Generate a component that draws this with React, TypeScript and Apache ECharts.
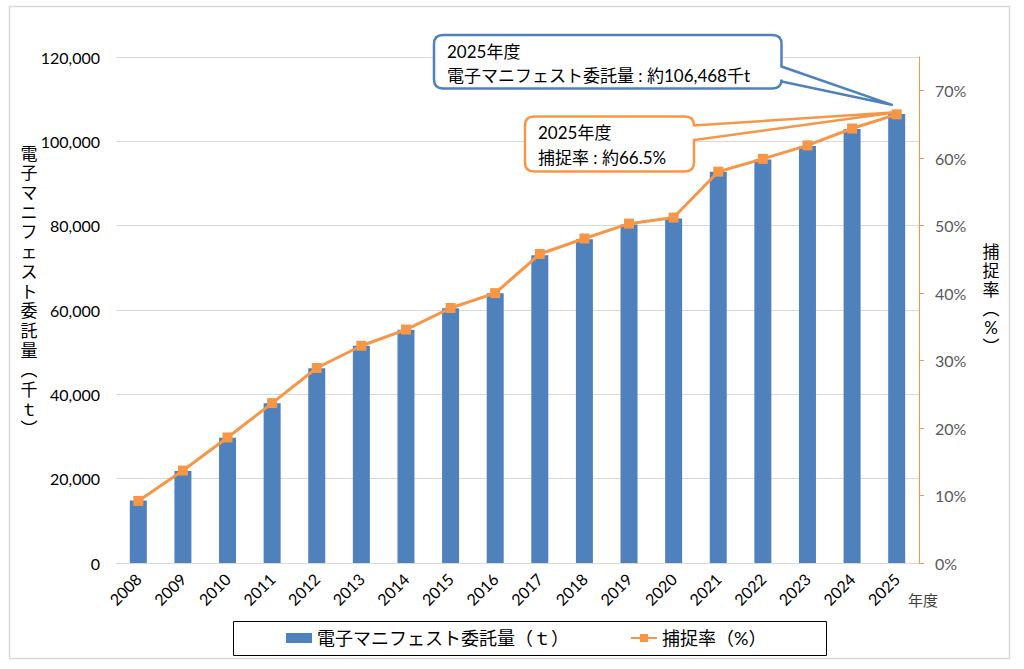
import React, { useEffect, useRef } from 'react';
import * as echarts from 'echarts';

const years = ['2008', '2009', '2010', '2011', '2012', '2013', '2014', '2015', '2016', '2017', '2018', '2019', '2020', '2021', '2022', '2023', '2024', '2025'];
const amounts = [14800, 21800, 29700, 37900, 46200, 51500, 55300, 60400, 64000, 73000, 76800, 80300, 81700, 92800, 95700, 98900, 102900, 106468];
const rates = [9.2, 13.7, 18.6, 23.7, 28.9, 32.2, 34.6, 37.8, 40.0, 45.8, 48.1, 50.3, 51.2, 58.0, 59.9, 61.9, 64.4, 66.5];
const rightTickValues = [0, 10, 20, 30, 40, 50, 60, 70];

const barName = '電子マニフェスト委託量（ｔ）';
const lineName = '捕捉率（%）';
const leftTitleChars = ['電', '子', 'マ', 'ニ', 'フ', 'ェ', 'ス', 'ト', '委', '託', '量', '︵', '千', 'ｔ', '︶'];
const rightTitleChars = ['捕', '捉', '率', '︵', '%', '︶'];

const FONT = "Lato, 'Noto Sans CJK JP', sans-serif";
const BLUE = '#4f81bd';
const ORANGE = '#f79646';
const GRID = '#d9d9d9';

function calloutPath(x0: number, y0: number, x1: number, y1: number, r: number, ya: number, yb: number, tx: number, ty: number) {
  return `M${x0 + r} ${y0} H${x1 - r} Q${x1} ${y0} ${x1} ${y0 + r} V${ya} L${tx} ${ty} L${x1} ${yb} V${y1 - r} Q${x1} ${y1} ${x1 - r} ${y1} H${x0 + r} Q${x0} ${y1} ${x0} ${y1 - r} V${y0 + r} Q${x0} ${y0} ${x0 + r} ${y0} Z`;
}

function baseGraphics() {
  return [
    { id: 'frame', type: 'rect', shape: { x: 9.5, y: 6.5, width: 1000, height: 652 }, style: { fill: 'none', stroke: GRID, lineWidth: 1.5 }, silent: true, z: -10 },
    { id: 'legendBox', type: 'rect', shape: { x: 233.5, y: 621.5, width: 593, height: 34 }, style: { fill: 'none', stroke: '#000', lineWidth: 1 }, silent: true },
    {
      id: 'leftTitle', type: 'text', x: 29, y: 291,
      style: { text: leftTitleChars.join('\n'), fontFamily: FONT, fontSize: 17, lineHeight: 19.7, fill: '#000', align: 'center', verticalAlign: 'middle' },
    },
    {
      id: 'rightTitle', type: 'text', x: 991, y: 299,
      style: { text: rightTitleChars.join('\n'), fontFamily: FONT, fontSize: 17, lineHeight: 19, fill: '#000', align: 'center', verticalAlign: 'middle' },
    },
    {
      id: 'xName', type: 'text', x: 908, y: 600,
      style: { text: '年度', fontFamily: FONT, fontSize: 15, fill: '#404040', align: 'left', verticalAlign: 'middle' },
    },
  ];
}

export default function App() {
  const ref = useRef<HTMLDivElement>(null);
  useEffect(() => {
    if (!ref.current) return;
    const chart = echarts.init(ref.current, null, { renderer: 'svg' });
    const option: any = {
      animation: false,
      backgroundColor: '#fff',
      textStyle: { fontFamily: FONT },
      grid: { left: 116, right: 105, top: 57, bottom: 106 },
      legend: {
        left: 286, top: 628, itemWidth: 26, itemHeight: 10, itemGap: 61, padding: 0,
        textStyle: { fontSize: 18, color: '#000', fontFamily: FONT, lineHeight: 20 },
        data: [{ name: barName, icon: 'rect' }, { name: lineName }],
      },
      xAxis: {
        type: 'category', data: years,
        axisLine: { show: true, lineStyle: { color: GRID, width: 1 } },
        axisTick: { show: false },
        axisLabel: { rotate: 45, fontSize: 16, color: '#000', fontFamily: FONT, margin: 13, interval: 0 },
      },
      yAxis: [
        {
          type: 'value', min: 0, max: 120000, interval: 20000,
          axisLine: { show: false }, axisTick: { show: false },
          splitLine: { show: true, lineStyle: { color: GRID, width: 1 } },
          axisLabel: { fontSize: 16, color: '#000', fontFamily: FONT, margin: 16, formatter: (v: number) => v.toLocaleString('en-US') },
        },
        {
          type: 'value', min: 0, max: 75, interval: 10, position: 'right',
          axisLine: { show: true, lineStyle: { color: ORANGE, width: 1 } },
          axisTick: { show: true, inside: false, length: 5, lineStyle: { color: ORANGE }, customValues: rightTickValues },
          splitLine: { show: false },
          axisLabel: { fontSize: 16, color: '#595959', fontFamily: FONT, margin: 16, customValues: rightTickValues, formatter: (v: number) => `${v}%` },
        },
      ],
      series: [
        { name: barName, type: 'bar', data: amounts, yAxisIndex: 0, barWidth: 17, itemStyle: { color: BLUE } },
        {
          name: lineName, type: 'line', data: rates, yAxisIndex: 1, symbol: 'rect', symbolSize: 10, showAllSymbol: true,
          lineStyle: { color: ORANGE, width: 3 }, itemStyle: { color: ORANGE },
        },
      ],
      graphic: { elements: baseGraphics() },
    };
    chart.setOption(option);

    const last = years.length - 1;
    const barTop = chart.convertToPixel({ seriesIndex: 0 }, [years[last], amounts[last]]) as number[];
    const rateTop = chart.convertToPixel({ seriesIndex: 1 }, [years[last], rates[last]]) as number[];

    const blueD = calloutPath(434, 35, 781.5, 88.5, 9, 66.5, 81.5, barTop[0] - 4, barTop[1] - 9);
    const orangeD = calloutPath(525, 116.5, 694, 171.5, 9, 125.5, 140, rateTop[0], rateTop[1] - 2);
    echarts.graphic.registerShape('calloutBlue', echarts.graphic.extendPath(blueD, {}));
    echarts.graphic.registerShape('calloutOrange', echarts.graphic.extendPath(orangeD, {}));

    chart.setOption({
      graphic: {
        elements: [
          ...baseGraphics(),
          { id: 'cBlue', type: 'calloutBlue', x: 0, y: 0, scaleX: 1, scaleY: 1, style: { fill: '#fff', stroke: BLUE, lineWidth: 2.5 }, z: 100 },
          {
            id: 'cBlueText', type: 'text', x: 447, y: 39, z: 101,
            style: { text: `2025年度\n電子マニフェスト委託量 : 約${amounts[last].toLocaleString('en-US')}千t`, fontFamily: FONT, fontSize: 17, lineHeight: 24, fill: '#000', align: 'left', verticalAlign: 'top' },
          },
          { id: 'cOrange', type: 'calloutOrange', x: 0, y: 0, scaleX: 1, scaleY: 1, style: { fill: '#fff', stroke: ORANGE, lineWidth: 2.5 }, z: 100 },
          {
            id: 'cOrangeText', type: 'text', x: 538, y: 120, z: 101,
            style: { text: `2025年度\n捕捉率 : 約${rates[last].toFixed(1)}%`, fontFamily: FONT, fontSize: 17, lineHeight: 25, fill: '#000', align: 'left', verticalAlign: 'top' },
          },
        ],
      },
    });

    return () => chart.dispose();
  }, []);
  return <div ref={ref} style={{ position: 'fixed', left: 0, top: 0, width: 1024, height: 669 }} />;
}
